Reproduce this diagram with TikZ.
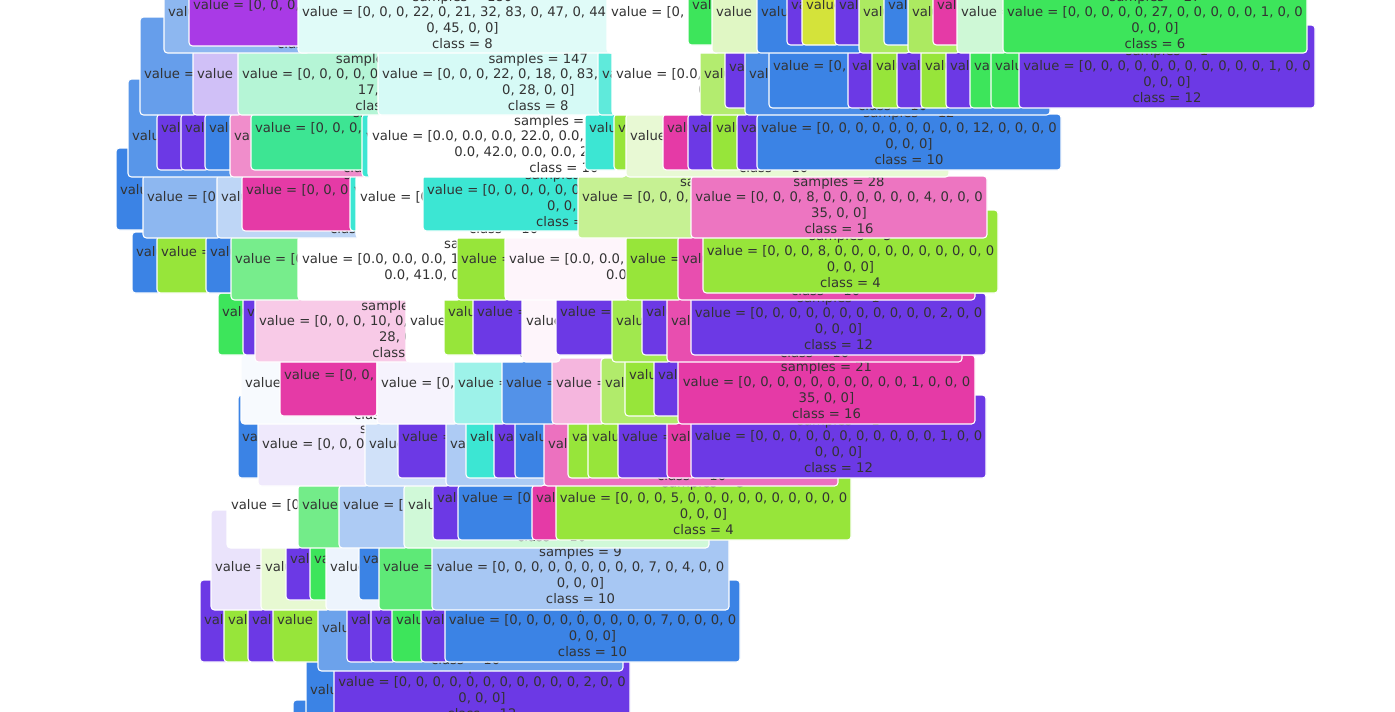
\documentclass[tikz,border=0pt]{standalone}
\usepackage{fontspec}
\setmainfont{DejaVu Sans}
\definecolor{cB}{HTML}{3B83E5}
\definecolor{cP}{HTML}{6C39E5}
\definecolor{cL}{HTML}{97E53A}
\definecolor{cG}{HTML}{3DE55B}
\definecolor{cM}{HTML}{E53AA6}
\definecolor{cT}{HTML}{3CE6D3}
\definecolor{cE}{HTML}{3DE593}
\definecolor{cY}{HTML}{D4E33A}
\definecolor{cV}{HTML}{A93AE6}
\definecolor{txtc}{HTML}{333333}
\newcommand\tfont{\fontsize{13.2}{15.7}\selectfont}
\tikzset{
  boxbg/.style={rounded corners=3.5pt},
  boxedge/.style={draw=white, line width=1.1pt, rounded corners=3.5pt},
  tline/.style={font=\tfont, text=txtc, inner sep=0pt, outer sep=0pt},
}
\newif\ifbxleft
\def\bxgo(#1,#2)(#3,#4)#5#6{\def\bxA{#1}\def\bxB{#2}\def\bxC{#3}\def\bxD{#4}\def\bxcol{#5}\def\bxty{#6}\bxtext}
\def\bxtext#1#2#3#4{%
  \fill[boxbg, fill=\bxcol] (\bxA,\bxB) rectangle (\bxC,\bxD);
  \begin{scope}
    \clip[boxbg] (\bxA,\bxB) rectangle (\bxC,\bxD);
    \ifbxleft
      \node[tline, anchor=base west] (v) at ({\bxA+4},{\bxty+4.8}) {#2};
    \else
      \node[tline, anchor=base] (v) at ({(\bxA+\bxC)/2},{\bxty+4.8}) {#2};
    \fi
    \node[tline, anchor=base] (s) at ([yshift=15.7pt]v.base) {#1};
    \node[tline, anchor=base] (w) at ([yshift=-15.7pt]v.base) {#3};
    \node[tline, anchor=base] (c) at ([yshift=-31.4pt]v.base) {#4};
  \end{scope}
  \draw[boxedge] (\bxA,\bxB) rectangle (\bxC,\bxD);
}
\def\pbl{\bxlefttrue\bxgo}
\def\fb{\bxleftfalse\bxgo}
\def\pb(#1,#2)(#3,#4)#5#6{\bxlefttrue\bxgo(#1,#2)(#3,#4){#5}{#6}{samples = 12}{value = [0, 0, 0, 0, 0, 0, 0, 0, 0, 0, 0, 0, 0, 0}{0, 0, 0]}{class = 10}}
\begin{document}
\begin{tikzpicture}[x=1pt,y=-1pt]
\useasboundingbox (0,0) rectangle (1395,712);
\fill[white] (0,0) rectangle (1395,712);
% ---- row L
\pb(293,700)(310,725){cB}{722}
\pb(306,655)(340,725){cB}{690}
\fb(334,642)(630,725){cP}{682}{samples = 1}{value = [0, 0, 0, 0, 0, 0, 0, 0, 0, 0, 0, 2, 0, 0}{0, 0, 0]}{class = 12}
% ---- row K
\pb(200,580)(230,662){cP}{620}
\pb(224,605)(252,662){cL}{620}
\pb(248,605)(277,662){cP}{620}
\pb(273,605)(322,662){cL}{620}
\pb(318,605)(623,671){cB!75}{628}
\pb(347,605)(375,662){cP}{620}
\pb(371,605)(396,662){cP}{620}
\pb(392,605)(425,662){cG}{620}
\pb(421,605)(449,662){cP}{620}
\fb(445,580)(740,662){cB}{620}{samples = 4}{value = [0, 0, 0, 0, 0, 0, 0, 0, 0, 7, 0, 0, 0, 0}{0, 0, 0]}{class = 10}
% ---- row J
\pb(211,510)(265,610){cP!14}{567}
\pb(261,545)(330,610){cL!23}{567}
\pb(286,545)(314,600){cP}{559}
\pb(310,545)(330,600){cG}{559}
\pb(326,545)(383,610){cB!9}{567}
\pb(359,545)(384,600){cB}{559}
\pb(379,545)(436,610){cG!83}{567}
\fb(432,535)(729,610){cB!45}{567}{samples = 9}{value = [0, 0, 0, 0, 0, 0, 0, 0, 0, 7, 0, 4, 0, 0}{0, 0, 0]}{class = 10}
% ---- row I
\pb(227,485)(302,548){white}{505}
\pb(298,485)(343,548){cG!72}{505}
\pb(339,485)(408,548){cB!42}{505}
\pb(404,485)(709,548){cG!24}{505}
\pb(433,485)(462,540){cP}{498}
\pb(458,485)(536,540){cB}{498}
\pb(532,485)(560,540){cM}{498}
\fb(556,457)(851,540){cL}{498}{samples = 3}{value = [0, 0, 0, 5, 0, 0, 0, 0, 0, 0, 0, 0, 0, 0}{0, 0, 0]}{class = 4}
% ---- row H
\pb(238,395)(262,478){cB}{437}
\pb(258,420)(369,486){cP!11}{444}
\pb(365,420)(450,486){cB!24}{444}
\pb(398,420)(450,478){cP}{437}
\pb(446,420)(545,486){cB!42}{444}
\pb(466,420)(498,478){cT}{437}
\pb(494,420)(519,478){cP}{437}
\pb(515,420)(548,478){cB}{437}
\pb(544,420)(838,486){cM!72}{444}
\pb(568,420)(592,478){cL}{437}
\pb(588,420)(622,478){cL}{437}
\pb(618,420)(671,478){cP}{437}
\pb(667,420)(695,478){cM}{437}
\fb(691,395)(986,478){cP}{436}{samples = 1}{value = [0, 0, 0, 0, 0, 0, 0, 0, 0, 0, 0, 1, 0, 0}{0, 0, 0]}{class = 12}
% ---- row G
\pb(241,355)(380,424){cB!4}{383}
\pb(280,358)(377,416){cM}{375}
\pb(377,358)(458,424){cP!6}{383}
\pb(454,358)(506,424){cT!50}{383}
\pb(502,358)(556,424){cB!88}{383}
\pb(552,358)(605,424){cM!37}{383}
\pb(601,358)(680,424){cL!75}{383}
\pb(625,358)(658,416){cL}{375}
\pb(654,358)(682,416){cP}{375}
\fb(678,355)(975,424){cM}{382}{samples = 21}{value = [0, 0, 0, 0, 0, 0, 0, 0, 0, 0, 1, 0, 0, 0}{35, 0, 0]}{class = 16}
% ---- row F
\pb(218,293)(247,355){cG}{312}
\pb(243,296)(259,355){cP}{312}
\pbl(255,296)(410,362){cM!27}{321}{samples = 38}{value = [0, 0, 0, 10, 0, 0, 0, 0, 0, 0, 0, 0, 0, 0}{28, 0, 0]}{class = 16}
\pb(406,296)(526,362){white}{321}
\pb(444,296)(477,355){cL}{312}
\pb(473,296)(526,355){cP}{312}
\pb(522,296)(560,362){cM!5}{321}
\pb(556,296)(616,355){cP}{312}
\pb(612,296)(671,362){cL!90}{321}
\pb(642,296)(671,355){cP}{312}
\pb(667,296)(962,362){cM!90}{321}
\fb(691,293)(986,355){cP}{313}{samples = 1}{value = [0, 0, 0, 0, 0, 0, 0, 0, 0, 0, 0, 2, 0, 0}{0, 0, 0]}{class = 12}
% ---- row E
\pb(132,232)(161,293){cB}{252}
\pb(157,236)(210,293){cL}{252}
\pb(206,236)(235,293){cB}{252}
\pb(231,236)(302,300){cG!70}{259}
\pbl(298,236)(461,300){white}{259}{samples = 100}{value = [0.0, 0.0, 0.0, 19.0, 0.0, 0.0, 0.0, 0.0, 0.0, 0.0, 0.0}{0.0, 41.0, 0.0, 0.0, 28.0, 0.0, 0.0]}{class = 10}
\pb(457,236)(509,300){cL}{259}
\pbl(505,236)(630,300){cM!5}{259}{samples = 60}{value = [0.0, 0.0, 0.0, 3.0, 0.0, 0.0, 0.0, 0.0, 0.0, 0.0, 0.0, 0.0}{0.0, 55.0, 0.0, 0.0, 2.0, 0.0, 0.0]}{class = 16}
\pb(626,236)(682,300){cL}{259}
\pb(678,236)(975,300){cM!90}{259}
\fb(703,210)(998,293){cL}{251}{samples = 5}{value = [0, 0, 0, 8, 0, 0, 0, 0, 0, 0, 0, 0, 0, 0}{0, 0, 0]}{class = 4}
% ---- row D
\pb(116,148)(147,230){cB}{190}
\pb(143,175)(221,238){cB!58}{197}
\pb(217,175)(360,238){cB!33}{197}
\pb(242,175)(354,231){cM}{190}
\pb(350,175)(360,231){cT}{190}
\pb(356,175)(582,238){white}{197}
\pb(423,175)(582,231){cT}{190}
\pb(578,175)(695,238){cL!55}{197}
\fb(691,176)(987,238){cM!70}{197}{samples = 28}{value = [0, 0, 0, 8, 0, 0, 0, 0, 0, 0, 4, 0, 0, 0}{35, 0, 0]}{class = 16}
% ---- row C
\pb(128,79)(234,177){cB!85}{136}
\pb(157,114)(185,170){cP}{128}
\pb(181,114)(209,170){cP}{128}
\pb(205,114)(234,170){cB}{128}
\pb(230,114)(368,177){cM!58}{136}
\pb(251,114)(366,170){cE}{128}
\pb(362,114)(372,177){cT}{136}
\pbl(368,114)(626,177){white}{136}{samples = 105}{value = [0.0, 0.0, 0.0, 22.0, 0.0, 0.0, 0.0, 0.0, 0.0, 0.0, 0.0}{0.0, 42.0, 0.0, 0.0, 28.0, 0.0, 0.0]}{class = 10}
\pb(585,114)(618,170){cT}{128}
\pb(614,114)(630,170){cL}{128}
\pb(626,114)(949,177){cL!22}{136}
\pb(663,114)(692,170){cM}{128}
\pb(688,114)(716,170){cP}{128}
\pb(712,114)(741,170){cL}{128}
\pb(737,114)(761,170){cP}{128}
\fb(757,114)(1061,170){cB}{128}{samples = 12}{value = [0, 0, 0, 0, 0, 0, 0, 0, 0, 12, 0, 0, 0, 0}{0, 0, 0]}{class = 10}
% ---- row B
\pb(140,17)(197,115){cB!78}{74}
\pb(193,50)(242,115){cP!32}{74}
\pbl(238,50)(382,115){cE!38}{74}{samples = 170}{value = [0, 0, 0, 0, 0, 0, 0, 0, 0, 0, 0, 0, 0, 0}{17, 0, 0]}{class = 7}
\pbl(378,50)(602,115){cT!21}{74}{samples = 147}{value = [0, 0, 0, 22, 0, 18, 0, 83, 0, 0, 0, 0, 0, 0}{0, 28, 0, 0]}{class = 8}
\pb(598,50)(616,115){cT!82}{74}
\pbl(612,50)(704,115){white}{74}{samples = 100}{value = [0.0, 0.0, 0.0, 22.0, 0.0, 0.0, 0.0, 0.0, 0.0, 0.0, 0.0}{0.0, 42.0, 0.0, 0.0, 28.0, 0.0, 0.0]}{class = 10}
\pb(700,50)(749,115){cL!73}{74}
\pb(725,50)(749,108){cP}{67}
\pb(745,50)(1050,115){cB!92}{74}
\pb(769,50)(852,108){cB}{66}
\pb(848,50)(876,108){cP}{66}
\pb(872,50)(901,108){cL}{66}
\pb(897,50)(925,108){cP}{66}
\pb(921,50)(950,108){cL}{66}
\pb(946,50)(974,108){cP}{66}
\pb(970,50)(995,108){cG}{66}
\pb(991,50)(1023,108){cG}{66}
\fb(1019,25)(1315,108){cP}{66}{samples = 1}{value = [0, 0, 0, 0, 0, 0, 0, 0, 0, 0, 0, 1, 0, 0}{0, 0, 0]}{class = 12}
% ---- row A
\pb(164,-30)(310,53){cB!58}{12}
\pb(189,-30)(310,46){cV}{5}
\pbl(298,-30)(620,53){cT!16}{12}{samples = 180}{value = [0, 0, 0, 22, 0, 21, 32, 83, 0, 47, 0, 44, 0}{0, 45, 0, 0]}{class = 8}
\pb(607,-30)(720,53){white}{12}
\pb(688,-30)(716,45){cG}{5}
\pb(712,-30)(761,53){cL!30}{12}
\pb(757,-30)(862,53){cB}{12}
\pb(787,-30)(806,45){cP}{5}
\pb(802,-30)(839,45){cY}{5}
\pb(835,-30)(863,45){cP}{5}
\pb(859,-30)(910,53){cL!80}{12}
\pb(884,-30)(912,45){cB}{5}
\pb(908,-30)(960,53){cL!80}{12}
\pb(933,-30)(961,45){cM}{5}
\pb(957,-30)(1007,53){cG!25}{12}
\fb(1003,-30)(1307,53){cG}{12}{samples = 27}{value = [0, 0, 0, 0, 0, 27, 0, 0, 0, 0, 0, 1, 0, 0}{0, 0, 0]}{class = 6}
\end{tikzpicture}
\end{document}
